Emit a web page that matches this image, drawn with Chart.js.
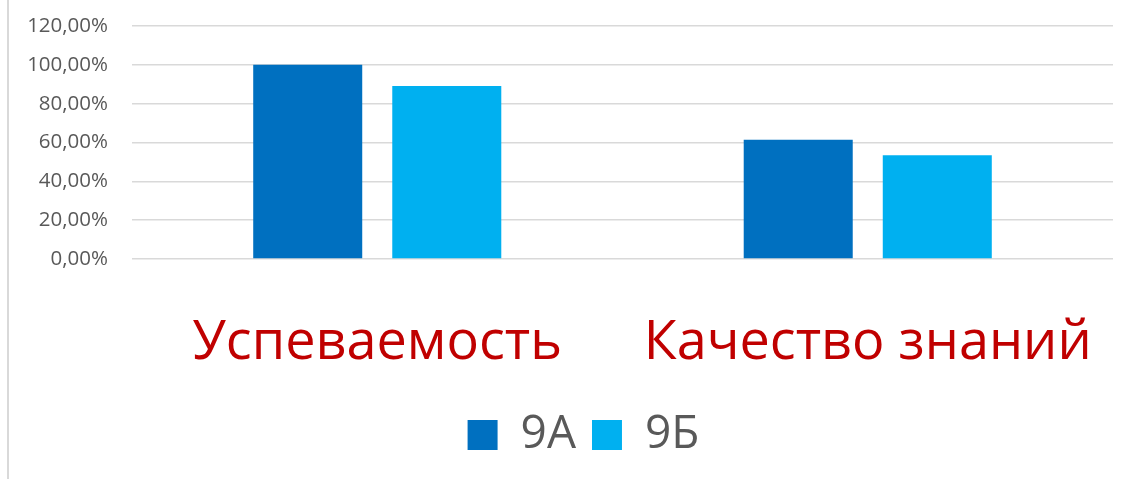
<!DOCTYPE html>
<html>
<head>
<meta charset="utf-8">
<script src="https://cdn.jsdelivr.net/npm/chart.js@4/dist/chart.umd.min.js"></script>
<style>
  html, body { margin: 0; padding: 0; background: #ffffff; }
  #wrap { position: relative; width: 1134px; height: 479px; }
  #frame { position: absolute; left: 7px; top: 0; width: 2px; height: 479px; background: #d9d9d9; }
  canvas { position: absolute; left: 0; top: 0; }
</style>
</head>
<body>
<div id="wrap">
  <div id="frame"></div>
  <canvas id="c" width="1134" height="479"></canvas>
</div>
<script>
const categories = ['Успеваемость', 'Качество знаний'];
const seriesNames = ['9А', '9Б'];
const values9A = [100, 61.4];
const values9B = [89.1, 53.4];
const yTickValues = [0, 20, 40, 60, 80, 100, 120];
const seriesColors = ['#0070C0', '#00B0F0'];

function fmtPct(v) { return v.toFixed(2).replace('.', ',') + '%'; }

const FONT = '"Open Sans", "Noto Sans", sans-serif';

// Centre the legend under the plot region (as the original does)
const legendShift = {
  id: 'legendShift',
  afterLayout(chart) {
    if (chart.legend) { chart.legend.left += 54; }
  }
};

new Chart(document.getElementById('c'), {
  type: 'bar',
  data: {
    labels: categories,
    datasets: [
      { label: seriesNames[0], data: values9A, backgroundColor: seriesColors[0], categoryPercentage: 0.567, barPercentage: 0.784 },
      { label: seriesNames[1], data: values9B, backgroundColor: seriesColors[1], categoryPercentage: 0.567, barPercentage: 0.784 }
    ]
  },
  plugins: [legendShift],
  options: {
    responsive: false,
    animation: false,
    layout: { padding: { left: 0, right: 21, top: 0, bottom: 11 } },
    plugins: {
      tooltip: { enabled: false },
      legend: {
        position: 'bottom',
        labels: {
          color: '#595959',
          font: { family: FONT, size: 46 },
          boxWidth: 30,
          boxHeight: 30,
          padding: 16,
          useBorderRadius: false
        }
      }
    },
    scales: {
      x: {
        grid: { display: false },
        border: { display: false },
        afterFit: (scale) => { scale.height = 137; scale.paddingLeft = 0; scale.paddingRight = 0; },
        ticks: {
          color: '#C00000',
          font: { family: FONT, size: 54 },
          padding: 44,
          maxRotation: 0
        }
      },
      y: {
        min: 0,
        max: 120,
        afterBuildTicks: (scale) => { scale.ticks = yTickValues.map(v => ({ value: v })); },
        afterFit: (scale) => { scale.width = 132; scale.paddingTop = 26; scale.paddingBottom = 0; },
        grid: { color: '#d9d9d9', lineWidth: 1.5, drawTicks: false },
        border: { display: false },
        ticks: {
          color: '#595959',
          font: { family: FONT, size: 20.5 },
          padding: 24,
          callback: (v) => fmtPct(v)
        }
      }
    }
  }
});
</script>
</body>
</html>
